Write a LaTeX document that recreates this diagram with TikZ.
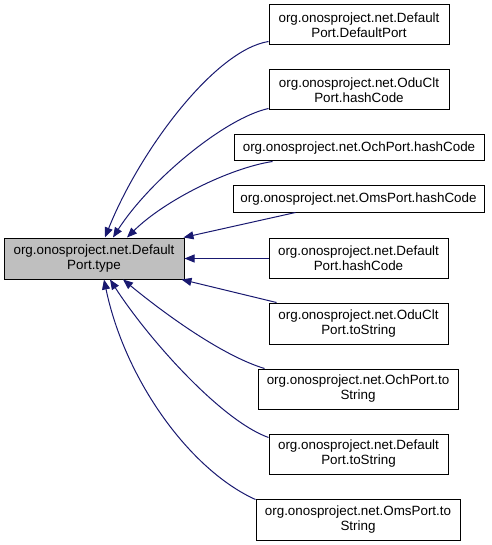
\documentclass[tikz,border=0pt]{standalone}
\usepackage{fontspec}
\setmainfont{Liberation Sans}
\usetikzlibrary{arrows.meta}
\definecolor{edgeblue}{HTML}{191970}
\tikzset{
  box/.style={draw=black, line width=1pt, inner sep=0pt, align=center,
    font=\fontsize{13.4}{15}\selectfont},
  mainbox/.style={box, fill={rgb,255:red,191;green,191;blue,191}},
  conn/.style={draw=edgeblue, line width=1pt,
    -{Triangle[length=10pt,width=8pt]}}
}
\begin{document}
\begin{tikzpicture}[x=1pt,y=-1pt]
\useasboundingbox (0,0) rectangle (491,545);
\node[mainbox, minimum width=180pt, minimum height=41pt] (main) at (94,258.5) {org.onosproject.net.Default\\Port.type};
\node[box, minimum width=180pt, minimum height=40pt] (c1) at (359,25) {org.onosproject.net.Default\\Port.DefaultPort};
\node[box, minimum width=180pt, minimum height=40pt] (c2) at (359,90) {org.onosproject.net.OduClt\\Port.hashCode};
\node[box, minimum width=250pt, minimum height=26pt] (c3) at (359,148) {org.onosproject.net.OchPort.hashCode};
\node[box, minimum width=251pt, minimum height=26pt] (c4) at (358.5,199) {org.onosproject.net.OmsPort.hashCode};
\node[box, minimum width=179pt, minimum height=40pt] (c5) at (358.5,258.5) {org.onosproject.net.Default\\Port.hashCode};
\node[box, minimum width=179pt, minimum height=41pt] (c6) at (358.5,323.5) {org.onosproject.net.OduClt\\Port.toString};
\node[box, minimum width=200pt, minimum height=40pt] (c7) at (358,389) {org.onosproject.net.OchPort.to\\String};
\node[box, minimum width=179pt, minimum height=40pt] (c8) at (358.5,454) {org.onosproject.net.Default\\Port.toString};
\node[box, minimum width=204pt, minimum height=41pt] (c9) at (358,519.5) {org.onosproject.net.OmsPort.to\\String};

\draw[conn] ([yshift=4pt]c1.south west) .. controls (215,50) and (140,150) .. ([xshift=11pt]main.north);
\draw[conn] ([yshift=2pt]c2.south west) .. controls (225,118) and (150,180) .. ([xshift=19pt]main.north);
\draw[conn] ([xshift=39pt]c3.south west) .. controls (230,168) and (165,200) .. ([xshift=33pt]main.north);
\draw[conn] ([xshift=63pt]c4.south west) -- ([xshift=-1pt]main.north east);
\draw[conn] (c5.west) -- (main.east);
\draw[conn] ([xshift=8pt]c6.north west) -- ([xshift=-3pt]main.south east);
\draw[conn] ([xshift=7pt]c7.north west) .. controls (220,355) and (160,310) .. ([xshift=29pt]main.south);
\draw[conn] ([yshift=-4pt]c8.north west) .. controls (220,420) and (147,337) .. ([xshift=16pt]main.south);
\draw[conn] ([yshift=-1pt]c9.north west) .. controls (190,470) and (125,380) .. ([xshift=10pt]main.south);
\end{tikzpicture}
\end{document}
